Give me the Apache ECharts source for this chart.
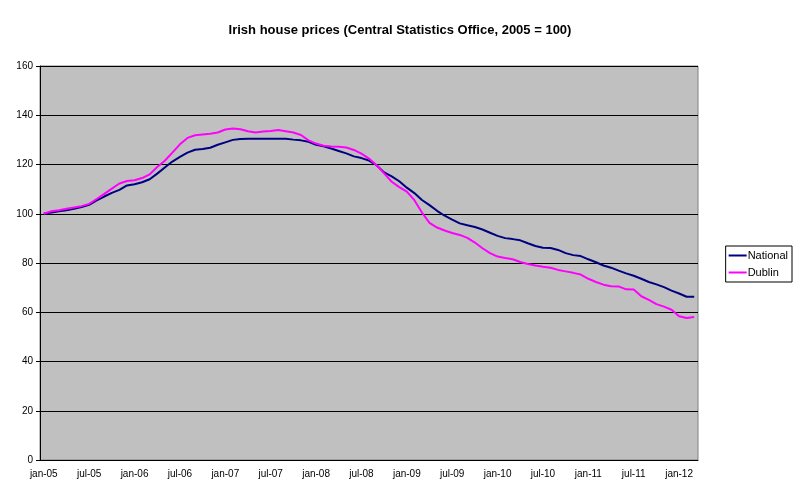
<!DOCTYPE html>
<html>
<head>
<meta charset="utf-8">
<script src="https://cdn.jsdelivr.net/npm/echarts@6/dist/echarts.min.js"></script>
<style>html,body{margin:0;padding:0;background:#fff}#c{width:800px;height:498px}</style>
</head>
<body>
<div id="c"></div>
<script>
const monthNames = ['jan','feb','mar','apr','may','jun','jul','aug','sep','oct','nov','dec'];
const years = ['05','06','07','08','09','10','11','12'];
const categories = [];
for (const y of years) for (const m of monthNames) categories.push(m + '-' + y);
categories.length = 87; // jan-05 .. mar-12

const national = [
  100, 100.5, 101, 101.4, 102, 102.7, 103.6, 105.4, 107, 108.5, 109.7, 111.5,
  112, 112.8, 114, 116.3, 118.8, 121.2, 123.1, 124.8, 126, 126.3, 126.8, 128,
  129, 130, 130.4, 130.5, 130.5, 130.5, 130.5, 130.5, 130.5, 130.1, 129.8, 129.2,
  128, 127.4, 126.5, 125.5, 124.5, 123.3, 122.6, 121.6, 119.7, 116.8, 115.2, 113.2,
  110.6, 108.4, 105.6, 103.5, 101.2, 99.2, 97.6, 96.1, 95.3, 94.6, 93.6, 92.3,
  91, 90.1, 89.7, 89.2, 88, 86.9, 86.2, 86.1, 85.3, 84, 83.2, 82.8,
  81.5, 80.3, 79, 78.1, 76.9, 75.8, 74.8, 73.6, 72.3, 71.3, 70.2, 68.8,
  67.6, 66.3, 66.3
];
const dublin = [
  100, 101, 101.4, 102, 102.5, 103.1, 104, 106, 108.1, 110.2, 112.3, 113.3,
  113.6, 114.5, 116, 119, 121.5, 124.8, 128.2, 130.8, 131.9, 132.2, 132.5, 133,
  134.2, 134.6, 134.3, 133.5, 133, 133.4, 133.6, 134, 133.5, 133, 132, 129.8,
  128.5, 127.6, 127.3, 127.2, 126.9, 125.9, 124.4, 122.4, 119.7, 116.4, 113, 110.8,
  109, 105.5, 100.5, 96.3, 94.4, 93.2, 92.2, 91.4, 90.2, 88.3, 86, 84,
  82.6, 82, 81.5, 80.4, 79.6, 79, 78.5, 78.1, 77.2, 76.6, 76, 75.3,
  73.6, 72.3, 71.2, 70.6, 70.5, 69.3, 69.2, 66.5, 65, 63.3, 62.3, 61,
  58.4, 57.7, 58.1
];
const seriesNames = ['National', 'Dublin'];
const yTicks = { min: 0, max: 160, interval: 20 };

const font = 'Arial, "Liberation Sans", sans-serif';
const chart = echarts.init(document.getElementById('c'));
chart.setOption({
  animation: false,
  title: {
    text: 'Irish house prices (Central Statistics Office, 2005 = 100)',
    left: 'center', top: 19,
    textStyle: { fontFamily: font, fontSize: 13, fontWeight: 'bold', color: '#000' }
  },
  legend: {
    orient: 'vertical', right: 8, top: 246,
    backgroundColor: '#fff', borderColor: '#000', borderWidth: 1,
    padding: [4, 4, 4, 3], itemGap: 6,
    itemWidth: 18, itemHeight: 2, icon: 'rect',
    textStyle: { fontFamily: font, fontSize: 11, color: '#000', padding: [0, 0, 0, -4] },
    data: seriesNames
  },
  grid: {
    left: 40, right: 102, top: 66, bottom: 38,
    show: true, backgroundColor: '#C0C0C0', borderColor: '#808080', borderWidth: 1
  },
  xAxis: {
    type: 'category', data: categories, boundaryGap: true,
    axisLine: { lineStyle: { color: '#000', width: 1 } },
    axisTick: { interval: 5, length: 4, lineStyle: { color: '#000' } },
    axisLabel: { interval: 5, fontFamily: font, fontSize: 10, color: '#000', margin: 9 },
    splitLine: { show: false }
  },
  yAxis: {
    type: 'value', min: yTicks.min, max: yTicks.max, interval: yTicks.interval,
    axisLine: { show: true, lineStyle: { color: '#000', width: 1 } },
    axisTick: { show: true, length: 4, lineStyle: { color: '#000' } },
    axisLabel: { fontFamily: font, fontSize: 10, color: '#000', margin: 7 },
    splitLine: { show: true, lineStyle: { color: '#000', width: 1 } }
  },
  series: [
    { name: seriesNames[0], type: 'line', data: national, showSymbol: false, symbol: 'none',
      lineStyle: { color: '#000080', width: 2 }, itemStyle: { color: '#000080' } },
    { name: seriesNames[1], type: 'line', data: dublin, showSymbol: false, symbol: 'none',
      lineStyle: { color: '#FF00FF', width: 2 }, itemStyle: { color: '#FF00FF' } }
  ]
});
</script>
</body>
</html>
